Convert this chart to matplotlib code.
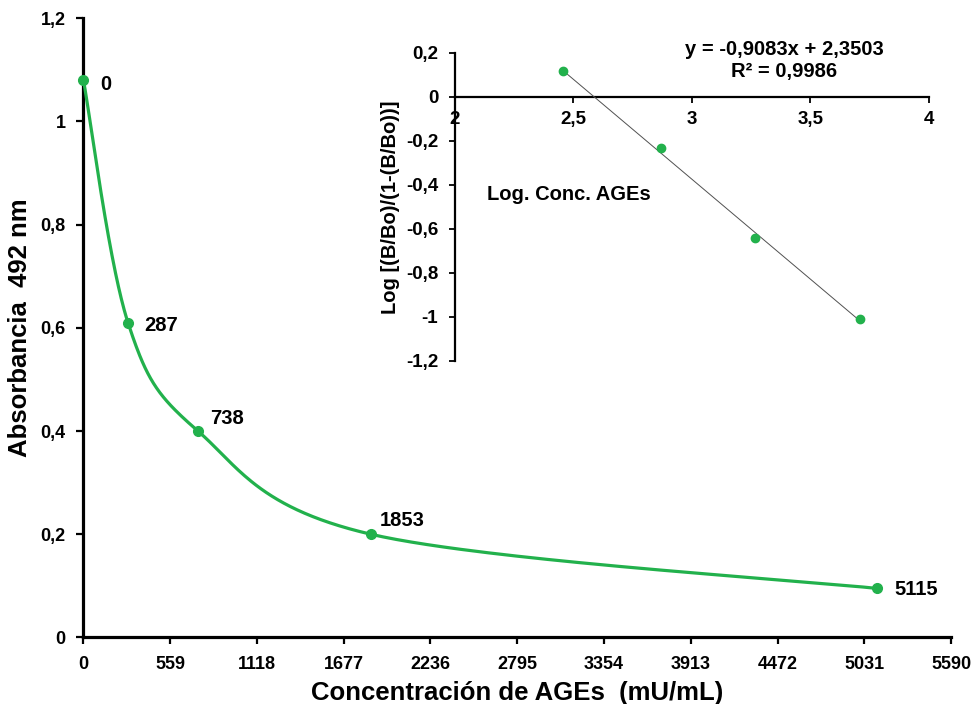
import numpy as np
import matplotlib
matplotlib.use("Agg")
from matplotlib import pyplot as plt
from matplotlib.ticker import FuncFormatter, MultipleLocator

# main curve: standard points
conc = [0, 287, 738, 1853, 5115]
absorb = [1.08, 0.61, 0.40, 0.20, 0.095]
point_labels = ["0", "287", "738", "1853", "5115"]
label_offsets = [(12, -3), (12, -2), (9, 9), (6, 10), (12, -1)]

# inset: linearised data
log_conc = [2.458, 2.868, 3.268, 3.709]
logit_vals = [0.115, -0.235, -0.64, -1.01]
slope = -0.9083
intercept = 2.3503

GREEN = "#22B14C"
plt.rcParams["font.family"] = ["Liberation Sans", "DejaVu Sans"]
plt.rcParams["font.weight"] = "bold"


def comma(v, pos):
    s = ("%.1f" % v).rstrip("0").rstrip(".")
    if s == "-0":
        s = "0"
    return s.replace(".", ",")


def smooth(xs, ys, sx, sy, n=60):
    # Excel-like smoothing: cubic bezier, tangents from neighbours, in scaled space
    px = np.array(xs) / sx
    py = np.array(ys) / sy
    out_x, out_y = [], []
    k = len(px)
    for i in range(k - 1):
        p0 = np.array([px[max(i - 1, 0)], py[max(i - 1, 0)]])
        p1 = np.array([px[i], py[i]])
        p2 = np.array([px[i + 1], py[i + 1]])
        p3 = np.array([px[min(i + 2, k - 1)], py[min(i + 2, k - 1)]])
        c1 = p1 + (p2 - p0) / 6.0
        c2 = p2 - (p3 - p1) / 6.0
        t = np.linspace(0, 1, n)[:, None]
        b = ((1 - t) ** 3) * p1 + 3 * ((1 - t) ** 2) * t * c1 + 3 * (1 - t) * t ** 2 * c2 + t ** 3 * p2
        out_x.extend(b[:, 0] * sx)
        out_y.extend(b[:, 1] * sy)
    return out_x, out_y


fig = plt.figure(figsize=(9.74, 7.04), dpi=100)
ax = fig.add_axes([0.0857, 0.0945, 0.8907, 0.8795])

# scale so smoothing works in roughly pixel proportions
sx, sy = 5590 / 867.0, 1.2 / 619.0
cx, cy = smooth(conc, absorb, sx, sy)
ax.plot(cx, cy, color=GREEN, lw=2.3, zorder=3)
ax.plot(conc, absorb, "o", color=GREEN, ms=7, zorder=4, clip_on=False)
for x, y, lab, off in zip(conc, absorb, point_labels, label_offsets):
    ax.annotate(lab, (x, y), xytext=off, textcoords="offset points",
                fontsize=14.5, fontweight="bold", va="center", ha="left")

ax.set_xlim(0, 5590)
ax.set_ylim(0, 1.2)
ax.xaxis.set_major_locator(MultipleLocator(559))
ax.yaxis.set_major_locator(MultipleLocator(0.2))
ax.yaxis.set_major_formatter(FuncFormatter(comma))
ax.xaxis.set_major_formatter(FuncFormatter(lambda v, p: "%d" % round(v)))
for s in ["top", "right"]:
    ax.spines[s].set_visible(False)
for s in ["left", "bottom"]:
    ax.spines[s].set_linewidth(2.3)
ax.tick_params(axis="both", width=1.6, length=5, direction="out", labelsize=13)
ax.tick_params(axis="x", pad=8)
ax.tick_params(axis="y", pad=8)
for t in ax.get_xticklabels() + ax.get_yticklabels():
    t.set_fontweight("bold")
ax.set_xlabel("Concentración de AGEs  (mU/mL)", fontsize=18.5, fontweight="bold", labelpad=6)
ax.set_ylabel("Absorbancia  492 nm", fontsize=18.5, fontweight="bold", labelpad=6)

# inset
ins = fig.add_axes([0.467, 0.4875, 0.4867, 0.4375])
ins.plot(log_conc, logit_vals, "o", color=GREEN, ms=6, zorder=4)
fx = np.array([log_conc[0], log_conc[-1]])
ins.plot(fx, slope * fx + intercept, color="#505050", lw=0.7, zorder=3)
ins.set_xlim(2, 4)
ins.set_ylim(-1.2, 0.2)
ins.xaxis.set_major_locator(MultipleLocator(0.5))
ins.yaxis.set_major_locator(MultipleLocator(0.2))
ins.xaxis.set_major_formatter(FuncFormatter(comma))
ins.yaxis.set_major_formatter(FuncFormatter(comma))
ins.spines["top"].set_visible(False)
ins.spines["right"].set_visible(False)
ins.spines["bottom"].set_position(("data", 0))
ins.spines["left"].set_linewidth(1.6)
ins.spines["bottom"].set_linewidth(1.6)
ins.tick_params(axis="both", width=1.3, length=4, direction="out", labelsize=13.5)
ins.tick_params(axis="x", pad=6)
ins.tick_params(axis="y", pad=8)
for t in ins.get_xticklabels() + ins.get_yticklabels():
    t.set_fontweight("bold")
ins.patch.set_alpha(0)
ins.set_ylabel("Log [(B/Bo)/(1-(B/Bo))]", fontsize=14.5, fontweight="bold", labelpad=4)
ins.text(2.48, -0.445, "Log. Conc. AGEs", fontsize=14.5, fontweight="bold",
         ha="center", va="center")
ins.text(3.39, 0.26, "y = -0,9083x + 2,3503\nR² = 0,9986", fontsize=14.5,
         fontweight="bold", ha="center", va="top", linespacing=1.25)

fig.savefig("out.png", dpi=100)
